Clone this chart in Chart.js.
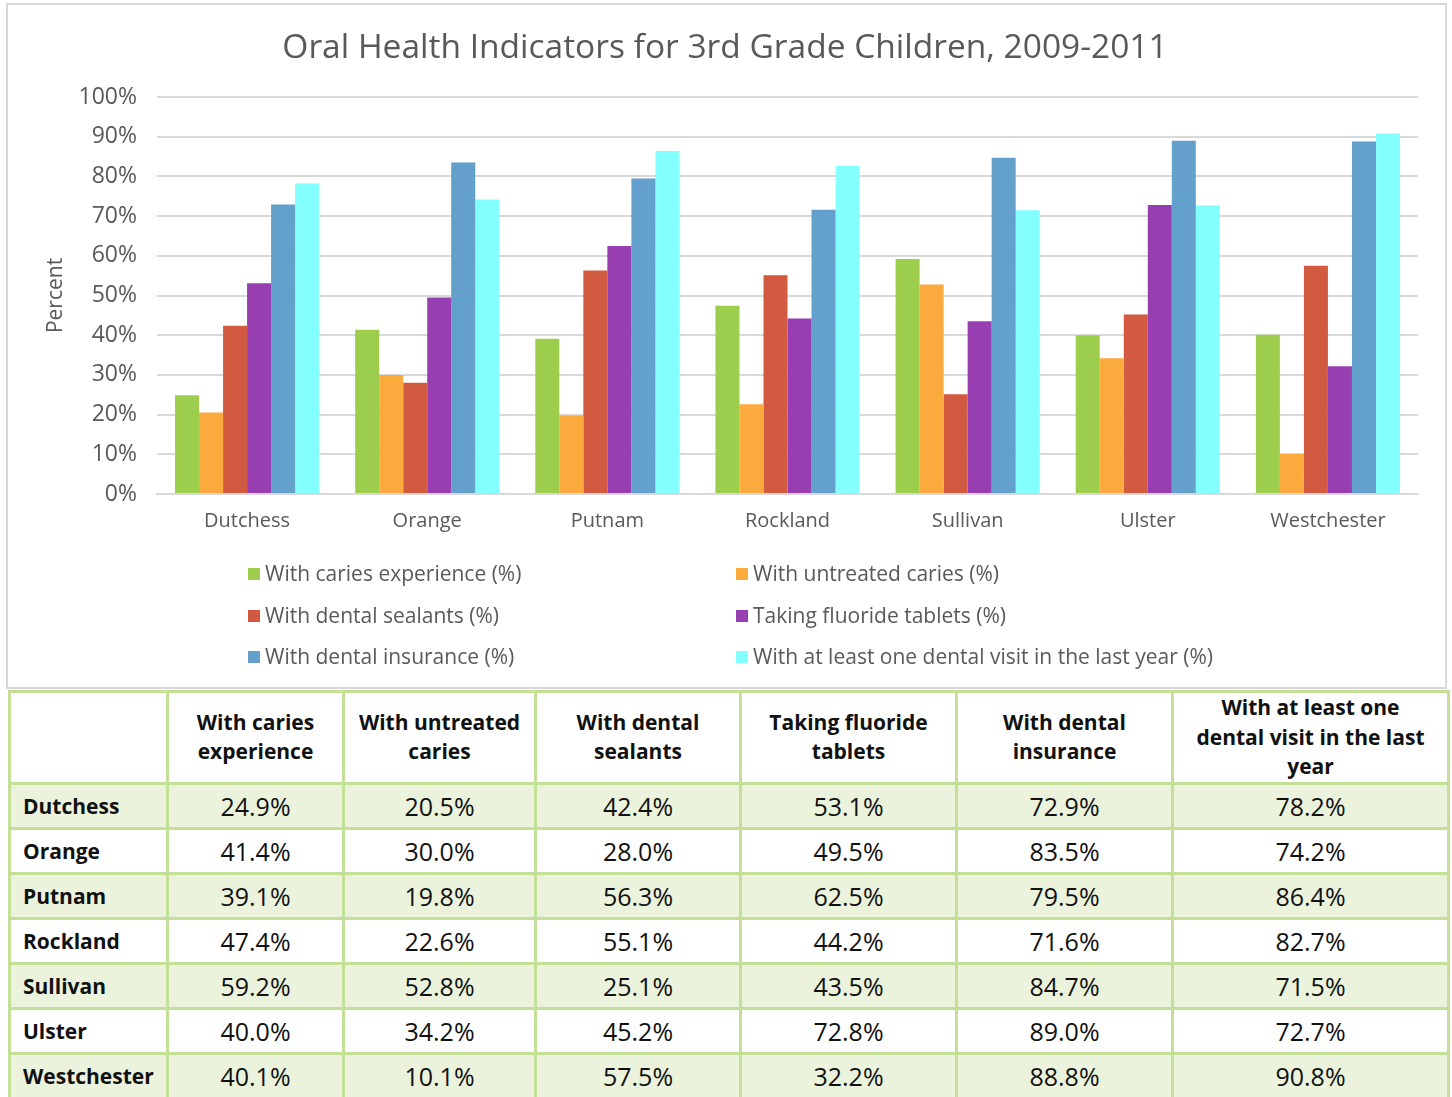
<!DOCTYPE html>
<html>
<head>
<meta charset="utf-8">
<script src="https://cdn.jsdelivr.net/npm/chart.js@4/dist/chart.umd.min.js"></script>
<style>
    body { margin: 0; background: #fff; font-family: "Open Sans", sans-serif; overflow: hidden; }
    #box { position: absolute; left: 6px; top: 3px; width: 1437px; height: 682px; border: 2px solid #d9d9d9; }
    #box canvas { position: absolute; left: 0; top: 0; }
    .leg { position: absolute; font-size: 21px; color: #595959; white-space: nowrap; line-height: 26px; }
    .leg span.sw { display: inline-block; width: 12px; height: 12px; margin-right: 5px; vertical-align: 1px; }
    table { position: absolute; left: 8px; top: 690px; width: 1439px; border-collapse: collapse; table-layout: fixed; }
    td, th { border: 3px solid #c3e096; padding: 0; text-align: center; color: #111; }
    th { height: 88px; font-weight: 700; line-height: 29.5px; font-size: 21px; padding: 0 3px; }
    td { font-weight: 400; height: 42px; font-size: 25px; }
    td.name { text-align: left; padding-left: 12px; font-weight: 700; font-size: 21px; }
    tr.odd td { background: #ebf3dd; }
</style>
</head>
<body>
<div id="box"><canvas id="myChart" width="1437" height="682"></canvas></div>
<div id="legend"></div>
<table id="tbl"></table>
<script>
const counties = ["Dutchess", "Orange", "Putnam", "Rockland", "Sullivan", "Ulster", "Westchester"];
const seriesNames = [
    "With caries experience (%)",
    "With untreated caries (%)",
    "With dental sealants (%)",
    "Taking fluoride tablets (%)",
    "With dental insurance (%)",
    "With at least one dental visit in the last year (%)"
];
const columnHeads = [
    "With caries experience",
    "With untreated caries",
    "With dental sealants",
    "Taking fluoride tablets",
    "With dental insurance",
    "With at least one dental visit in the last year"
];
const caries = [24.9, 41.4, 39.1, 47.4, 59.2, 40.0, 40.1];
const untreated = [20.5, 30.0, 19.8, 22.6, 52.8, 34.2, 10.1];
const sealants = [42.4, 28.0, 56.3, 55.1, 25.1, 45.2, 57.5];
const fluoride = [53.1, 49.5, 62.5, 44.2, 43.5, 72.8, 32.2];
const insurance = [72.9, 83.5, 79.5, 71.6, 84.7, 89.0, 88.8];
const visit = [78.2, 74.2, 86.4, 82.7, 71.5, 72.7, 90.8];
const colors = ["#9dcd4d", "#fbaa3e", "#d25a40", "#973fb0", "#63a0cb", "#84ffff"];

const seriesValues = [caries, untreated, sealants, fluoride, insurance, visit];

const datasets = seriesValues.map((vals, i) => ({
    label: seriesNames[i],
    data: vals,
    backgroundColor: colors[i],
    borderWidth: 0,
    categoryPercentage: 0.8,
    barPercentage: 1.0,
}));

const gray = "#595959";
const font = "'Open Sans', sans-serif";

const ctx = document.getElementById("myChart").getContext("2d");
const myChart = new Chart(ctx, {
    type: "bar",
    data: { labels: counties, datasets: datasets },
    options: {
        responsive: false,
        animation: false,
        layout: { padding: { left: 24, right: 27, top: 0, bottom: 133 } },
        plugins: {
            legend: { display: false },
            tooltip: { enabled: false },
            title: {
                display: true,
                text: "Oral Health Indicators for 3rd Grade Children, 2009-2011",
                color: gray,
                font: { family: font, size: 33.5, weight: "normal", lineHeight: 1.2 },
                padding: { top: 23, bottom: 28.8 },
            },
        },
        scales: {
            x: {
                grid: { display: false, drawTicks: false },
                border: { color: "#d9d9d9", width: 2 },
                ticks: { color: gray, font: { family: font, size: 20 }, padding: 15 },
                afterFit: (scale) => { scale.height = 60; },
            },
            y: {
                min: 0,
                max: 100,
                grid: { color: "#d9d9d9", lineWidth: 2, drawTicks: false },
                border: { display: false },
                ticks: {
                    stepSize: 10,
                    color: gray,
                    padding: 20,
                    font: { family: font, size: 23 },
                    callback: (v) => v + "%",
                },
                title: {
                    display: true,
                    text: "Percent",
                    color: gray,
                    font: { family: font, size: 21 },
                    padding: { top: 11, bottom: 0 },
                },
                afterFit: (scale) => { scale.width = 125; },
            },
        },
    },
});

// legend in two columns, same as the original
const legend = document.getElementById("legend");
const legendCols = [248, 736];
const legendRows = [573, 615, 656];
seriesNames.forEach((name, i) => {
    const d = document.createElement("div");
    d.className = "leg";
    d.style.left = legendCols[i % 2] + "px";
    d.style.top = (legendRows[Math.floor(i / 2)] - 13) + "px";
    d.innerHTML = '<span class="sw" style="background:' + colors[i] + '"></span>' + name;
    legend.appendChild(d);
});

// data table
const colWidths = [158, 176, 192, 205, 216, 216, 276];
const tbl = document.getElementById("tbl");
let html = "<colgroup>" + colWidths.map((w) => '<col style="width:' + w + 'px">').join("") + "</colgroup>";
html += "<tr><th></th>" + columnHeads.map((h, i) => "<th" + (i === 5 ? ' style="padding:0 16px"' : "") + ">" + h + "</th>").join("") + "</tr>";
counties.forEach((c, r) => {
    html += '<tr class="' + (r % 2 === 0 ? "odd" : "") + '"><td class="name">' + c + "</td>";
    seriesValues.forEach((vals) => {
        html += "<td>" + vals[r].toFixed(1) + "%</td>";
    });
    html += "</tr>";
});
tbl.innerHTML = html;
</script>
</body>
</html>
